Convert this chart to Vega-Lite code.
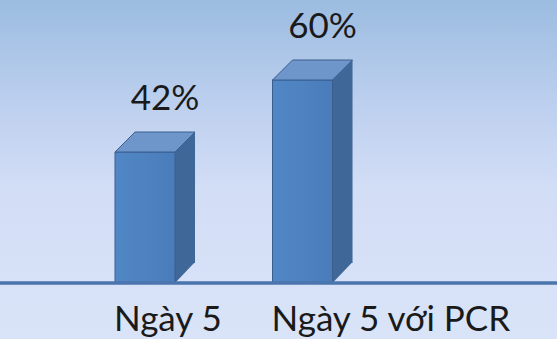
{
  "$schema": "https://vega.github.io/schema/vega-lite/v6.json",
  "width": 557,
  "height": 339,
  "autosize": {"type": "none"},
  "padding": 0,
  "background": "#d9e3f8",
  "config": {"view": {"stroke": null}},
  "data": {"values": [
    {"category": "Ngày 5", "value": 42, "label": "42%"},
    {"category": "Ngày 5 với PCR", "value": 60, "label": "60%"}
  ]},
  "encoding": {
    "x": {"field": "category", "type": "nominal", "sort": null, "axis": null,
          "scale": {"paddingInner": 0, "paddingOuter": 0.768, "align": 0.2738}}
  },
  "layer": [
    {
      "data": {"values": [{}]},
      "mark": {"type": "rect", "color": {"gradient": "linear", "x1": 0, "y1": 0, "x2": 0, "y2": 1,
        "stops": [
          {"offset": 0, "color": "#9bbce0"},
          {"offset": 0.3, "color": "#bccfee"},
          {"offset": 0.55, "color": "#d2ddf6"},
          {"offset": 1, "color": "#dae4f8"}
        ]}},
      "encoding": {"x": null}
    },
    {
      "mark": {"type": "bar", "width": 20, "xOffset": 40, "yOffset": -20, "y2Offset": -20, "color": "#3f6797"},
      "encoding": {
        "y": {"field": "value", "type": "quantitative", "axis": null, "scale": {"domain": [-4.75, 80], "zero": false, "nice": false}},
        "y2": {"datum": 9.25}
      }
    },
    {
      "mark": {"type": "point", "shape": "M0.6,0L0.6,-0.42L1,-0.42Z", "size": 10000, "filled": true, "opacity": 1, "color": "#3f6797", "strokeWidth": 0},
      "encoding": {"y": {"datum": 9.25, "type": "quantitative"}}
    },
    {
      "mark": {"type": "bar", "width": 60, "stroke": "#3b5f8e", "strokeWidth": 1,
        "color": {"gradient": "linear", "x1": 0, "y1": 0, "x2": 1, "y2": 0,
          "stops": [{"offset": 0, "color": "#5187c6"}, {"offset": 1, "color": "#4a7cba"}]}},
      "encoding": {
        "y": {"field": "value", "type": "quantitative"},
        "y2": {"datum": 9.25}
      }
    },
    {
      "mark": {"type": "point", "shape": "M-0.6,0L-0.2,-0.4L1,-0.4L0.6,0Z", "size": 10000, "filled": true, "opacity": 1, "color": "#6e96cb", "stroke": "#3b5f8e", "strokeWidth": 1},
      "encoding": {"y": {"field": "value", "type": "quantitative"}}
    },
    {
      "mark": {"type": "rule", "color": "#4a75ad", "strokeWidth": 3, "xOffset": 23},
      "encoding": {"y": {"datum": 9.25, "type": "quantitative"}, "x": null}
    },
    {
      "mark": {"type": "text", "font": "Lato", "fontSize": 35, "color": "#1a1a1a", "align": "center", "baseline": "middle", "dx": 20, "dy": -53},
      "encoding": {"y": {"field": "value", "type": "quantitative"}, "text": {"field": "label"}}
    },
    {
      "mark": {"type": "text", "font": "Lato", "fontSize": 35, "color": "#1a1a1a", "align": "left", "baseline": "middle", "dx": -31, "dy": 37},
      "encoding": {"y": {"datum": 9.25, "type": "quantitative"}, "text": {"field": "category"}}
    }
  ]
}
